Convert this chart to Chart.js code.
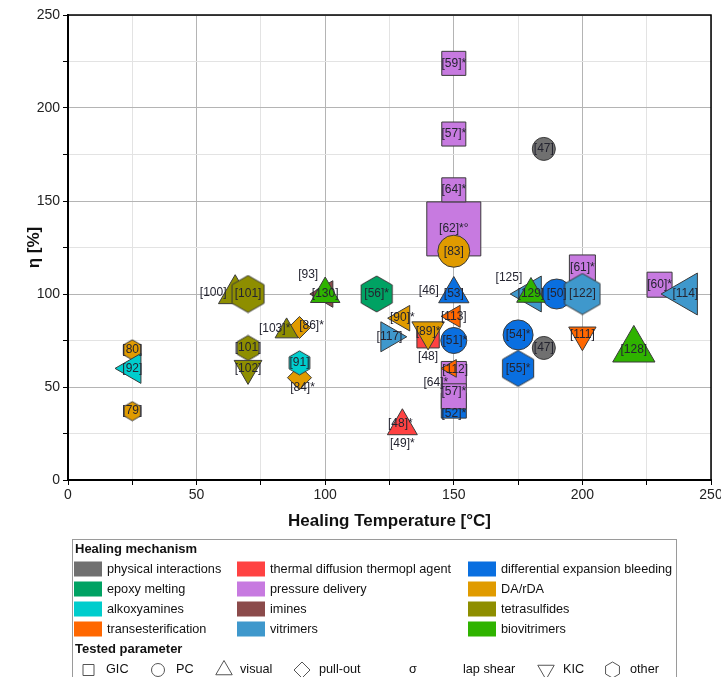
<!DOCTYPE html>
<html>
<head>
<meta charset="utf-8">
<script src="https://cdn.jsdelivr.net/npm/chart.js@4.4.1/dist/chart.umd.min.js"></script>
<style>
    body { margin: 0; background: #ffffff; }
</style>
</head>
<body>
<canvas id="grafico" width="721" height="677"></canvas>
<script>

// mecanismos de cura (legenda em 3 colunas, ordem por linha)
const mecanismosChave = ['phys', 'therm', 'diff', 'epoxy', 'press', 'da', 'alkoxy', 'imine', 'tetra', 'trans', 'vitr', 'bio'];
const mecanismos = ['physical interactions', 'thermal diffusion thermopl agent', 'differential expansion bleeding',
    'epoxy melting', 'pressure delivery', 'DA/rDA',
    'alkoxyamines', 'imines', 'tetrasulfides',
    'transesterification', 'vitrimers', 'biovitrimers'];
const cores = ['#707070', '#ff4242', '#0a6fe0', '#00a263', '#c77ae0', '#e09b00',
    '#00cdcd', '#8b4b4b', '#8e8e00', '#ff6700', '#3f98cc', '#2fb300'];

// parametros testados
const parametros = ['GIC', 'PC', 'visual', 'pull-out', 'σ', 'lap shear', 'KIC', 'other'];

// pontos: referencia, temperatura (°C), eficiencia η (%)
const refs = ['[59]*', '[57]*', '[62]*°', '[64]*', '[64]*', '[57]*', '[61]*', '[60]*',
    '[83]', '[47]', '[47]',
    '[46]', '[53]', '[51]*', '[52]*', '[50]', '[54]*', '[55]*',
    '[113]', '[112]', '[111]', '[89]*', '[48]', '[90]*', '[117]', '[56]*',
    '[130]', '[93]', '[100]', '[101]', '[102]', '[101]', '[103]*', '[86]*', '[91]', '[84]*',
    '[80]', '[92]', '[79]', '[49]*', '[48]*',
    '[125]', '[129]', '[122]', '[114]', '[128]'];
const temperatura = [150, 150, 150, 150, 150, 150, 200, 230,
    150, 185, 185,
    150, 150, 150, 150, 190, 175, 175,
    150, 149, 200, 140, 140, 130, 125, 120,
    100, 100, 65, 70, 70, 70, 85, 90, 90, 90,
    25, 25, 25, 130, 130,
    180, 180, 200, 240, 220];
const eficiencia = [224, 186, 135, 156, 57, 45, 114, 105,
    123, 178, 71,
    100, 100, 75, 40, 100, 78, 60,
    88, 60, 78, 80, 77, 87, 77, 100,
    100, 100, 100, 100, 60, 71, 80, 82, 63, 55,
    70, 60, 37, 29, 29,
    100, 100, 100, 100, 70];
const mecanismoDe = ['press', 'press', 'press', 'press', 'press', 'press', 'press', 'press',
    'da', 'phys', 'phys',
    'diff', 'diff', 'diff', 'diff', 'diff', 'diff', 'diff',
    'trans', 'trans', 'trans', 'da', 'therm', 'da', 'vitr', 'epoxy',
    'bio', 'imine', 'tetra', 'tetra', 'tetra', 'tetra', 'tetra', 'da', 'alkoxy', 'da',
    'da', 'alkoxy', 'da', 'therm', 'therm',
    'vitr', 'bio', 'vitr', 'vitr', 'bio'];
const parametroDe = ['GIC', 'GIC', 'GIC', 'GIC', 'GIC', 'GIC', 'GIC', 'GIC',
    'PC', 'PC', 'PC',
    'visual', 'visual', 'PC', 'GIC', 'PC', 'PC', 'other',
    'σ', 'σ', 'KIC', 'KIC', 'GIC', 'σ', 'lap shear', 'other',
    'visual', 'σ', 'visual', 'other', 'KIC', 'other', 'visual', 'pull-out', 'other', 'pull-out',
    'other', 'σ', 'other', 'visual', 'visual',
    'σ', 'visual', 'other', 'σ', 'visual'];

// tamanho dos simbolos (raio em px)
const tamanho = [17, 17, 38.2, 17, 17.7, 17.7, 18.4, 17.7,
    16, 11.5, 11.5,
    14, 17.5, 13, 17.7, 15, 15, 18,
    12.7, 10.2, 15.8, 18.7, 15.8, 14.7, 17.3, 18,
    17, 15.3, 19.3, 18.5, 16, 12.5, 13.3, 11, 12, 12,
    10, 17.3, 9.5, 15, 17.3,
    20.7, 16.5, 20.5, 24.2, 24.4];

// rotulos fora do simbolo
const deslocRotulo = {
    4: [-18, 9], 5: [0, -5], 11: [-25, -3], 13: [1, 0], 14: [0, 8], 19: [4, 1],
    22: [0, 20], 27: [-17, -19], 28: [-22, -1], 32: [-12, -3], 33: [12, -2],
    35: [3, 10], 39: [0, 18], 40: [-2, -2], 41: [-22, -16]
};

// quem fica por cima (primeiro = topo)
const ordemDesenho = ['bio', 'vitr', 'tetra', 'alkoxy', 'trans', 'da', 'press', 'therm', 'diff', 'imine', 'phys', 'epoxy'];

const formas = {
    'GIC': ['rect', 0], 'PC': ['circle', 0], 'visual': ['triangle', 0], 'pull-out': ['rectRot', 0],
    'σ': ['triangle', -90], 'lap shear': ['triangle', 90], 'KIC': ['triangle', 180], 'other': ['hex', 0]
};

const fonte = '"Liberation Sans", Arial, sans-serif';

function hexagono(cor, r) {
    const c = document.createElement('canvas');
    const w = Math.ceil(r * Math.sqrt(3)) + 2;
    const h = Math.ceil(2 * r) + 2;
    c.width = w;
    c.height = h;
    const g = c.getContext('2d');
    g.beginPath();
    for (let k = 0; k < 6; k++) {
        const a = Math.PI / 3 * k;
        const px = w / 2 + r * Math.sin(a);
        const py = h / 2 - r * Math.cos(a);
        if (k == 0) g.moveTo(px, py); else g.lineTo(px, py);
    }
    g.closePath();
    g.fillStyle = cor;
    g.fill();
    g.strokeStyle = '#3a3a3a';
    g.lineWidth = 1;
    g.stroke();
    return c;
}

var datasets = mecanismosChave.map(function (m, k) {
    var idx = [];
    for (var i = 0; i < refs.length; i++) {
        if (mecanismoDe[i] == m) idx.push(i);
    }
    return {
        label: mecanismos[k],
        data: idx.map(i => ({ x: temperatura[i], y: eficiencia[i], i: i })),
        backgroundColor: cores[k],
        borderColor: '#3a3a3a',
        borderWidth: 1,
        pointStyle: idx.map(i => formas[parametroDe[i]][0] == 'hex' ? hexagono(cores[k], tamanho[i]) : formas[parametroDe[i]][0]),
        pointRotation: idx.map(i => formas[parametroDe[i]][1]),
        pointRadius: idx.map(i => tamanho[i]),
        order: ordemDesenho.indexOf(m)
    };
});

function desenhaForma(ctx, forma, x, y, r) {
    ctx.beginPath();
    if (forma == 'rect') {
        ctx.rect(x - r, y - r, 2 * r, 2 * r);
    } else if (forma == 'circle') {
        ctx.arc(x, y, r, 0, Math.PI * 2);
    } else if (forma == 'rectRot') {
        ctx.moveTo(x - r, y); ctx.lineTo(x, y - r); ctx.lineTo(x + r, y); ctx.lineTo(x, y + r); ctx.closePath();
    } else if (forma == 'triangle' || forma == 'trianguloInv') {
        var s = forma == 'triangle' ? 1 : -1;
        ctx.moveTo(x, y - s * r);
        ctx.lineTo(x + r * 0.866, y + s * r / 2);
        ctx.lineTo(x - r * 0.866, y + s * r / 2);
        ctx.closePath();
    } else if (forma == 'hex') {
        for (var k = 0; k < 6; k++) {
            var a = Math.PI / 3 * k;
            if (k == 0) ctx.moveTo(x + r * Math.sin(a), y - r * Math.cos(a));
            else ctx.lineTo(x + r * Math.sin(a), y - r * Math.cos(a));
        }
        ctx.closePath();
    }
    ctx.stroke();
}

const moldura = {
    id: 'moldura',
    beforeDatasetsDraw(chart) {
        const { ctx, chartArea: a } = chart;
        ctx.save();
        ctx.strokeStyle = '#000';
        ctx.lineWidth = 1.5;
        ctx.beginPath();
        ctx.moveTo(a.left, a.top);
        ctx.lineTo(a.right, a.top);
        ctx.lineTo(a.right, a.bottom);
        ctx.stroke();
        ctx.restore();
    }
};

const rotulos = {
    id: 'rotulos',
    afterDatasetsDraw(chart) {
        const ctx = chart.ctx;
        ctx.save();
        ctx.font = '12px ' + fonte;
        ctx.fillStyle = '#242430';
        ctx.textAlign = 'center';
        ctx.textBaseline = 'middle';
        chart.data.datasets.forEach(function (ds, d) {
            chart.getDatasetMeta(d).data.forEach(function (el, j) {
                var i = ds.data[j].i;
                var off = deslocRotulo[i] || [0, 0];
                ctx.fillText(refs[i], el.x + off[0], el.y + off[1]);
            });
        });
        ctx.restore();
    }
};

const legenda = {
    id: 'legenda',
    afterDraw(chart) {
        const ctx = chart.ctx;
        ctx.save();
        ctx.strokeStyle = '#9a9a9a';
        ctx.lineWidth = 1;
        ctx.strokeRect(72.5, 539.5, 604, 160);

        ctx.fillStyle = '#111';
        ctx.textBaseline = 'middle';
        ctx.textAlign = 'left';
        ctx.font = 'bold 13px ' + fonte;
        ctx.fillText('Healing mechanism', 75, 549);
        ctx.fillText('Tested parameter', 75, 649);

        var colSw = [74, 237, 468];
        var colTx = [107, 270, 501];
        ctx.font = '12.7px ' + fonte;
        for (var k = 0; k < mecanismos.length; k++) {
            var c = k % 3, l = Math.floor(k / 3);
            var y = 569 + l * 20;
            ctx.fillStyle = cores[k];
            ctx.fillRect(colSw[c], y - 7.5, 28, 15);
            ctx.fillStyle = '#111';
            ctx.fillText(mecanismos[k], colTx[c], y);
        }

        // simbolos dos parametros
        var simX = [88.5, 158, 224, 302, null, null, 546, 612.5];
        var txtX = [106, 176, 240, 319, 409, 463, 563, 630];
        var simForma = ['rect', 'circle', 'triangle', 'rectRot', null, null, 'trianguloInv', 'hex'];
        var simTam = [5.5, 6.5, 9.5, 8, 0, 0, 9.5, 8];
        ctx.strokeStyle = '#555';
        ctx.lineWidth = 1;
        for (var p = 0; p < parametros.length; p++) {
            if (simForma[p]) desenhaForma(ctx, simForma[p], simX[p], 670, simTam[p]);
            ctx.fillText(parametros[p], txtX[p], 669);
        }
        ctx.restore();
    }
};

function zeraPadding(s) {
    s.paddingLeft = 0;
    s.paddingRight = 0;
    s.paddingTop = 0;
    s.paddingBottom = 0;
}

let Grafico = new Chart(document.getElementById('grafico'), {
    type: 'scatter',
    data: { datasets: datasets },
    plugins: [moldura, rotulos, legenda],
    options: {
        responsive: false,
        animation: false,
        events: [],
        devicePixelRatio: 1,
        layout: { autoPadding: false, padding: { top: 15, right: 10, bottom: 137, left: 0 } },
        plugins: {
            legend: { display: false },
            tooltip: { enabled: false }
        },
        scales: {
            x: {
                min: 0,
                max: 250,
                afterFit: function (s) { s.height = 60; zeraPadding(s); },
                ticks: {
                    stepSize: 25,
                    autoSkip: false,
                    maxRotation: 0,
                    padding: 2,
                    color: '#222',
                    font: { family: fonte, size: 14 },
                    callback: v => v % 50 == 0 ? v : ''
                },
                grid: {
                    color: c => c.tick && c.tick.value % 50 == 0 ? '#b4b4b4' : '#e3e3e3',
                    tickColor: '#000',
                    tickLength: 5
                },
                border: { color: '#000', width: 2 },
                title: {
                    display: true,
                    text: 'Healing Temperature [°C]',
                    color: '#111',
                    font: { family: fonte, size: 17, weight: 'bold' },
                    padding: { top: 0, bottom: 8 }
                }
            },
            y: {
                min: 0,
                max: 250,
                afterFit: function (s) { s.width = 68; zeraPadding(s); },
                ticks: {
                    stepSize: 25,
                    autoSkip: false,
                    padding: 3,
                    color: '#222',
                    font: { family: fonte, size: 14 },
                    callback: v => v % 50 == 0 ? v : ''
                },
                grid: {
                    color: c => c.tick && c.tick.value % 50 == 0 ? '#b4b4b4' : '#e3e3e3',
                    tickColor: '#000',
                    tickLength: 5
                },
                border: { color: '#000', width: 2 },
                title: {
                    display: true,
                    text: 'η [%]',
                    color: '#111',
                    font: { family: fonte, size: 17, weight: 'bold' },
                    padding: { top: 24, bottom: 0 }
                }
            }
        }
    }
});
</script>
</body>
</html>
